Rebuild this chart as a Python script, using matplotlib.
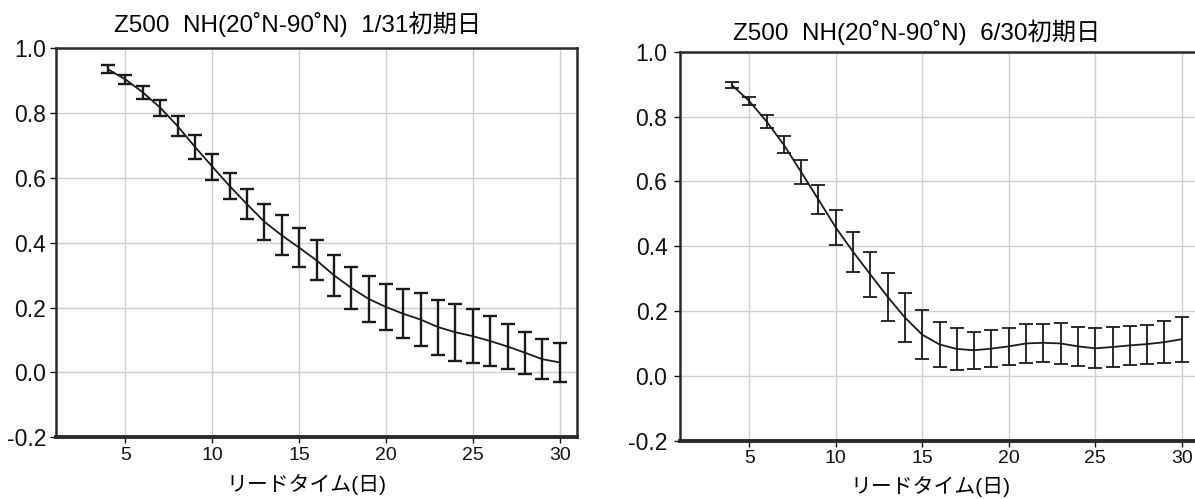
import matplotlib
matplotlib.use("Agg")
import matplotlib.pyplot as plt
import numpy as np

# ---- data ----
lead_days = list(range(4, 31))

jan_mean = [0.935, 0.904, 0.864, 0.817, 0.760, 0.696, 0.635, 0.575, 0.519, 0.465,
            0.423, 0.385, 0.346, 0.300, 0.261, 0.227, 0.202, 0.181, 0.163, 0.140,
            0.124, 0.112, 0.097, 0.080, 0.061, 0.041, 0.031]
jan_err = [0.012, 0.015, 0.019, 0.025, 0.032, 0.038, 0.040, 0.041, 0.046, 0.055,
           0.062, 0.060, 0.062, 0.063, 0.064, 0.072, 0.072, 0.075, 0.082, 0.085,
           0.088, 0.083, 0.078, 0.069, 0.065, 0.062, 0.060]

jun_mean = [0.897, 0.848, 0.785, 0.713, 0.629, 0.544, 0.458, 0.383, 0.313, 0.244,
            0.180, 0.127, 0.097, 0.083, 0.079, 0.084, 0.091, 0.100, 0.102, 0.100,
            0.091, 0.085, 0.089, 0.094, 0.098, 0.104, 0.113]
jun_err = [0.010, 0.013, 0.019, 0.027, 0.036, 0.045, 0.053, 0.062, 0.070, 0.074,
           0.076, 0.076, 0.069, 0.064, 0.057, 0.057, 0.057, 0.059, 0.058, 0.062,
           0.060, 0.062, 0.062, 0.059, 0.060, 0.064, 0.070]

x_ticks = [5, 10, 15, 20, 25, 30]
y_ticks = [-0.2, 0.0, 0.2, 0.4, 0.6, 0.8, 1.0]
titles = ["Z500  NH(20\u02daN-90\u02daN)  1/31初期日", "Z500  NH(20\u02daN-90\u02daN)  6/30初期日"]
x_label = "リードタイム(日)"

W, H = 1195, 499
fig = plt.figure(figsize=(W / 100, H / 100), dpi=100)

JP = ["Liberation Sans", "Noto Sans CJK JP"]
NARROW = ["Liberation Sans Narrow", "Liberation Sans"]

def px_axes(x0, x1, ytop, ybot):
    return fig.add_axes([x0 / W, (H - ybot) / H, (x1 - x0) / W, (ybot - ytop) / H])

ax1 = px_axes(56, 577, 48.3, 437.3)
ax2 = px_axes(680, 1199, 51.7, 440.7)

panels = [(ax1, jan_mean, jan_err, 1.7, 3), (ax2, jun_mean, jun_err, 1.3, 5)]
for ax, m, e, lw, ypad in panels:
    ax.set_xlim(1, 31)
    ax.set_ylim(-0.2, 1.0)
    ax.set_xticks(x_ticks)
    ax.set_yticks(y_ticks)
    ax.set_yticklabels([f"{v:.1f}" for v in y_ticks], fontfamily="Liberation Sans", fontsize=16.5)
    ax.set_xticklabels([str(v) for v in x_ticks], fontfamily=NARROW, fontsize=14)
    ax.grid(True, color="#cfcfcf", linewidth=1.0)
    ax.set_axisbelow(True)
    ax.errorbar(lead_days, m, yerr=e, fmt="none", ecolor="#1a1a1a",
                elinewidth=lw, capsize=5, capthick=lw)
    ax.plot(lead_days, m, color="#1a1a1a", linewidth=1.3)
    for s in ["left", "top", "right"]:
        ax.spines[s].set_linewidth(1.8)
        ax.spines[s].set_color("#2a2a2a")
    ax.spines["bottom"].set_linewidth(2.8)
    ax.spines["bottom"].set_color("#2a2a2a")
    ax.tick_params(axis="y", length=4, width=1, pad=ypad, colors="#111111")
    ax.tick_params(axis="x", length=4, width=1, pad=3, colors="#111111")

fig.text(306 / W, 1 - 485 / H, x_label, ha="center", va="center", fontfamily=JP, fontsize=15)
fig.text(930 / W, 1 - 487 / H, x_label, ha="center", va="center", fontfamily=JP, fontsize=15)

fig.text(298 / W, 1 - 24 / H, titles[0], ha="center", va="center", fontfamily=JP, fontsize=17.5)
fig.text(917 / W, 1 - 32 / H, titles[1], ha="center", va="center", fontfamily=JP, fontsize=17.5)

fig.savefig("out.png", dpi=100)
